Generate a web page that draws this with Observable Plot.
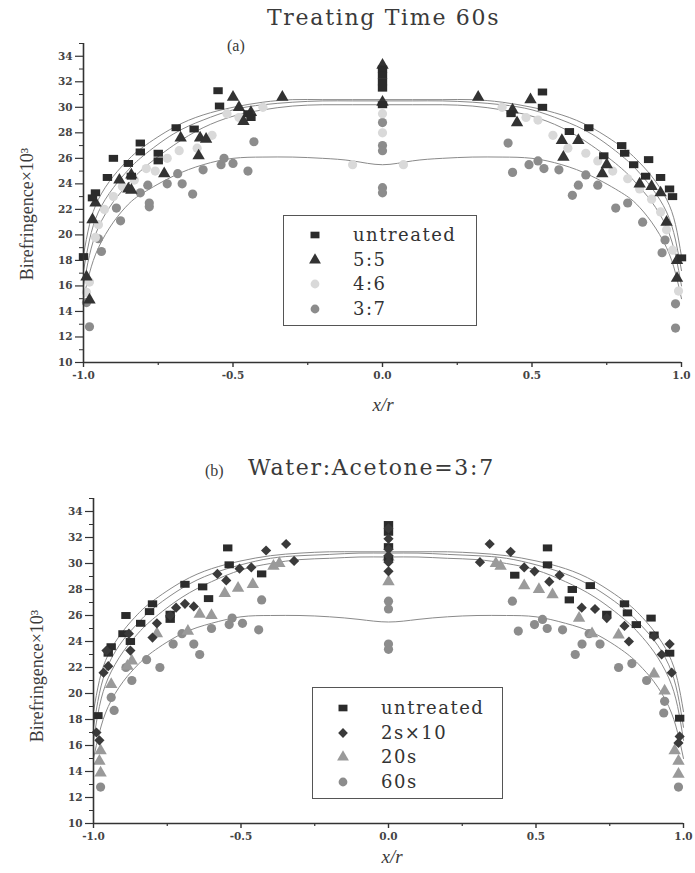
<!DOCTYPE html>
<html>
<head>
<meta charset="utf-8">
<script src="https://cdn.jsdelivr.net/npm/d3@7"></script>
<script src="https://cdn.jsdelivr.net/npm/@observablehq/plot@0.6"></script>
<style>
  body { margin: 0; background: #fff; }
  #fig { position: relative; width: 695px; height: 873px; overflow: hidden; background: #fff; }
  #fig svg { position: absolute; left: 0; }
  .txt { position: absolute; white-space: nowrap; color: #3a3a3a; }
  .title { font-family: "DejaVu Serif", serif; font-size: 22px; letter-spacing: 1.7px; }
  .paren { font-family: "Liberation Serif", serif; font-size: 16px; }
  .ylab { font-family: "Liberation Serif", serif; font-size: 18px; transform: translate(-50%, -50%) rotate(-90deg); }
  .xlab { font-family: "Liberation Serif", serif; font-style: italic; font-size: 19px; transform: translate(-50%, -50%); }
  .legend { position: absolute; border: 1.3px solid #555; box-sizing: border-box; }
  .legend .row { position: absolute; left: 0; display: flex; align-items: center; font-family: "DejaVu Serif", serif; font-size: 18px; letter-spacing: 1.5px; color: #333; }
</style>
</head>
<body>
<div id="fig"></div>
<script>
// ---------- data ----------
const seriesA = ["untreated", "5:5", "4:6", "3:7"];
const seriesB = ["untreated", "2s×10", "20s", "60s"];
const xTicks = [-1, -0.5, 0, 0.5, 1];
const xMinorTicks = [-0.75, -0.25, 0.25, 0.75];
const yTicks = [10, 12, 14, 16, 18, 20, 22, 24, 26, 28, 30, 32, 34];
const yMinorTicks = [11, 13, 15, 17, 19, 21, 23, 25, 27, 29, 31, 33, 35];

// panel (a): Treating Time 60s — measured points [x/r, birefringence]
const ptsA_untreated = [[-1.0,18.3],[-0.97,22.9],[-0.96,23.3],[-0.92,24.5],[-0.90,26.0],[-0.85,25.6],[-0.84,24.6],[-0.81,27.2],[-0.81,26.5],[-0.75,26.4],[-0.75,25.8],[-0.69,28.4],[-0.63,28.3],[-0.55,31.3],[-0.545,30.1],[-0.45,29.5],[-0.44,29.2],
  [0,33.0],[0,32.5],[0,32.0],[0,31.5],[0,30.2],
  [0.43,29.5],[0.535,31.2],[0.535,30.0],[0.625,28.1],[0.69,28.4],[0.74,26.2],[0.80,27.0],[0.81,26.4],[0.84,25.5],[0.89,25.9],[0.88,24.6],[0.93,24.5],[0.96,23.6],[0.97,23.0],[1.0,18.2]];
const ptsA_55 = [[-0.99,16.7],[-0.98,14.9],[-0.97,21.2],[-0.96,22.5],[-0.88,24.3],[-0.85,23.6],[-0.84,24.7],[-0.84,23.5],[-0.73,24.8],[-0.675,27.6],[-0.615,26.2],[-0.61,27.6],[-0.59,27.5],[-0.50,30.8],[-0.48,30.0],[-0.465,28.9],[-0.44,29.6],[-0.335,30.8],
  [0,33.3],[0,30.4],
  [0.32,30.8],[0.435,29.8],[0.45,28.8],[0.495,30.6],[0.60,27.4],[0.605,26.1],[0.655,27.4],[0.735,24.8],[0.75,25.5],[0.86,24.0],[0.90,23.8],[0.93,23.3],[0.95,21.0],[0.985,18.0],[0.985,16.6]];
const ptsA_46 = [[-0.99,15.5],[-0.98,16.3],[-0.96,19.8],[-0.95,20.8],[-0.93,22.0],[-0.90,23.0],[-0.87,23.8],[-0.83,24.3],[-0.79,25.2],[-0.76,25.0],[-0.72,26.0],[-0.68,26.6],[-0.62,26.8],[-0.57,27.8],[-0.52,29.5],[-0.48,29.2],[-0.40,30.0],[-0.10,25.5],
  [0,29.5],[0,28.0],
  [0.07,25.5],[0.40,30.0],[0.48,29.2],[0.52,29.0],[0.57,27.8],[0.62,26.8],[0.68,26.4],[0.72,25.8],[0.77,25.0],[0.82,24.4],[0.86,23.6],[0.90,22.8],[0.93,21.8],[0.95,20.4],[0.97,18.8],[0.99,15.6]];
const ptsA_37 = [[-0.98,12.8],[-0.99,14.7],[-0.94,18.7],[-0.95,19.7],[-0.876,21.1],[-0.89,22.1],[-0.78,22.2],[-0.78,22.5],[-0.81,23.3],[-0.785,23.9],[-0.72,24.0],[-0.67,24.0],[-0.635,23.2],[-0.685,24.8],[-0.60,25.1],[-0.54,25.5],[-0.50,25.6],[-0.53,26.0],[-0.45,25.0],[-0.43,27.3],
  [0,28.8],[0,27.0],[0,26.6],[0,23.7],[0,23.3],
  [0.42,27.2],[0.435,24.9],[0.49,25.5],[0.52,25.8],[0.54,25.2],[0.59,25.1],[0.635,23.1],[0.655,23.9],[0.68,24.7],[0.72,23.9],[0.78,22.1],[0.82,22.5],[0.87,21.0],[0.935,18.6],[0.945,19.6],[0.98,14.6],[0.98,12.7]];

// panel (b): Water:Acetone = 3:7
const ptsB_untreated = [[-0.985,18.3],[-0.95,23.1],[-0.94,23.6],[-0.90,24.6],[-0.875,24.0],[-0.89,26.0],[-0.84,25.4],[-0.81,26.3],[-0.80,26.9],[-0.74,26.1],[-0.74,25.7],[-0.69,28.4],[-0.63,28.2],[-0.61,27.3],[-0.545,31.2],[-0.54,29.9],[-0.43,29.2],
  [0,33.0],[0,32.4],[0,31.3],[0,30.4],
  [0.428,29.1],[0.539,31.2],[0.539,29.9],[0.613,27.2],[0.623,28.0],[0.684,28.3],[0.74,26.1],[0.80,26.9],[0.81,26.2],[0.84,25.3],[0.89,25.8],[0.90,24.5],[0.953,23.1],[0.987,18.1]];
const ptsB_2s10 = [[-0.99,17.0],[-0.98,16.4],[-0.966,21.6],[-0.95,22.1],[-0.956,23.3],[-0.88,24.6],[-0.875,23.3],[-0.80,24.3],[-0.785,25.4],[-0.74,26.0],[-0.72,26.6],[-0.69,26.9],[-0.66,26.7],[-0.58,29.2],[-0.55,28.7],[-0.505,29.6],[-0.465,29.7],[-0.415,31.0],[-0.347,31.5],[-0.32,30.2],
  [0,32.7],[0,31.9],[0,31.1],[0,30.6],[0,30.1],[0,29.4],
  [0.31,30.1],[0.343,31.5],[0.414,30.9],[0.46,29.7],[0.495,29.4],[0.545,28.6],[0.58,29.1],[0.655,26.6],[0.70,26.5],[0.74,25.8],[0.80,25.2],[0.815,24.0],[0.90,24.4],[0.926,23.0],[0.953,23.8],[0.96,21.6],[0.983,16.2],[0.987,16.7]];
const ptsB_20s = [[-0.976,15.6],[-0.98,14.8],[-0.976,13.9],[-0.94,20.7],[-0.885,22.1],[-0.87,22.5],[-0.785,24.6],[-0.68,24.8],[-0.64,26.1],[-0.60,26.0],[-0.555,27.7],[-0.51,28.1],[-0.46,28.4],[-0.39,29.8],[-0.37,30.0],
  [0,30.5],[0,28.6],
  [0.364,30.0],[0.38,29.8],[0.46,28.3],[0.51,28.0],[0.556,27.6],[0.646,25.8],[0.69,24.6],[0.78,24.5],[0.90,21.5],[0.936,20.2],[0.97,15.6],[0.983,14.8],[0.983,13.8]];
const ptsB_60s = [[-0.976,12.8],[-0.94,19.7],[-0.93,18.7],[-0.89,22.0],[-0.87,21.0],[-0.82,22.6],[-0.775,22.0],[-0.73,23.8],[-0.70,24.6],[-0.66,23.8],[-0.64,23.0],[-0.60,25.0],[-0.54,25.3],[-0.53,25.8],[-0.495,25.4],[-0.44,24.9],[-0.43,27.2],
  [0,27.1],[0,26.5],[0,23.8],[0,23.4],
  [0.42,27.1],[0.44,24.8],[0.495,25.3],[0.522,25.7],[0.538,25.0],[0.59,24.9],[0.633,23.0],[0.656,23.8],[0.68,24.6],[0.717,23.8],[0.78,22.0],[0.825,22.3],[0.875,21.0],[0.933,18.5],[0.936,19.4],[0.983,12.8]];

// fitted curves, sampled at curveX
const curveX = [-1,-0.98,-0.95,-0.9,-0.85,-0.8,-0.7,-0.6,-0.5,-0.4,-0.3,-0.2,-0.1,0,0.1,0.2,0.3,0.4,0.5,0.6,0.7,0.8,0.85,0.9,0.95,0.98,1];
const curveA_untreated = [18.4,20.8,22.8,24.6,25.9,26.9,28.4,29.4,30.0,30.4,30.6,30.6,30.6,30.6,30.6,30.6,30.6,30.4,30.0,29.4,28.4,26.9,25.9,24.6,22.8,20.8,18.3];
const curveA_55 = [17.2,19.6,21.8,23.7,25.1,26.2,27.9,29.0,29.8,30.2,30.4,30.5,30.5,30.5,30.5,30.5,30.4,30.2,29.8,29.0,27.9,26.2,25.1,23.7,21.8,19.6,17.2];
const curveA_46 = [16.0,18.4,20.6,22.6,24.0,25.2,27.0,28.4,29.3,29.8,30.1,30.2,30.2,30.2,30.2,30.2,30.1,29.8,29.3,28.4,27.0,25.2,24.0,22.6,20.6,18.4,16.0];
const curveA_37 = [15.0,17.0,19.0,21.0,22.4,23.3,24.6,25.5,26.0,26.1,26.1,26.0,25.8,25.5,25.8,26.0,26.1,26.1,26.0,25.5,24.6,23.3,22.4,21.0,19.0,17.0,15.0];
const curveB_untreated = [18.6,21.0,23.0,24.8,26.1,27.1,28.6,29.6,30.2,30.6,30.8,30.9,30.9,30.9,30.9,30.9,30.8,30.6,30.2,29.6,28.6,27.1,26.1,24.8,23.0,21.0,18.6];
const curveB_2s10 = [17.4,20.0,22.2,24.1,25.4,26.5,28.1,29.2,29.9,30.4,30.6,30.7,30.8,30.8,30.8,30.7,30.6,30.4,29.9,29.2,28.1,26.5,25.4,24.1,22.2,20.0,17.4];
const curveB_20s = [16.4,19.0,21.2,23.2,24.6,25.7,27.4,28.6,29.5,30.0,30.3,30.4,30.5,30.5,30.5,30.4,30.3,30.0,29.5,28.6,27.4,25.7,24.6,23.2,21.2,19.0,16.4];
const curveB_60s = [15.0,17.0,19.0,20.9,22.2,23.2,24.6,25.4,25.9,26.0,26.0,25.9,25.7,25.5,25.7,25.9,26.0,26.0,25.9,25.4,24.6,23.2,22.2,20.9,19.0,17.0,15.0];

// ---------- styling ----------
const rectSymbol = { draw(ctx, size) { const s = Math.sqrt(size); const w = s * 1.15, h = s * 0.85; ctx.rect(-w / 2, -h / 2, w, h); } };
const symbolsA = [rectSymbol, "triangle", "circle", "circle"];
const colorsA = ["#2b2b2b", "#333333", "#d9d9d9", "#8c8c8c"];
const symbolsB = [rectSymbol, "diamond2", "triangle", "circle"];
const colorsB = ["#2b2b2b", "#3a3a3a", "#9a9a9a", "#8c8c8c"];

function toRows(series, arrays) {
  const rows = [];
  series.forEach((s, i) => arrays[i].forEach(([x, y]) => rows.push({ series: s, x, y })));
  return rows;
}
function toCurves(series, arrays) {
  const rows = [];
  series.forEach((s, i) => arrays[i].forEach((y, j) => rows.push({ series: s, x: curveX[j], y })));
  return rows;
}

function panel({ series, pts, curves, symbols, colors, height, marginLeft, marginRight, marginTop, marginBottom, drawOrder }) {
  const points = toRows(series, pts);
  const ordered = drawOrder.flatMap(s => points.filter(d => d.series === s));
  const lines = toCurves(series, curves);
  const fmt = d3.format(".1f");
  return Plot.plot({
    width: 695, height, marginLeft, marginRight, marginTop, marginBottom,
    style: { fontFamily: "DejaVu Serif, serif", fontSize: "10.5px", fontWeight: "bold", color: "#444", background: "transparent" },
    x: { domain: [-1, 1] },
    y: { domain: [10, 35] },
    symbol: { domain: series, range: symbols },
    color: { domain: series, range: colors },
    marks: [
      Plot.line(lines, { x: "x", y: "y", z: "series", stroke: "#8a8a8a", strokeWidth: 1, curve: "natural" }),
      Plot.dot(ordered, { x: "x", y: "y", symbol: "series", fill: "series", r: 4.6, stroke: "none" }),
      Plot.axisX({ ticks: xTicks, tickFormat: d => fmt(d).replace("−", "-"), tickSize: 5, tickPadding: 4, label: null, stroke: "#333", strokeWidth: 1.4 }),
      Plot.axisX({ ticks: xMinorTicks, tickFormat: () => "", tickSize: 3, label: null, stroke: "#333", strokeWidth: 1.2 }),
      Plot.axisY({ ticks: yTicks, tickSize: 8, tickPadding: 3, label: null, stroke: "#333", strokeWidth: 1.2 }),
      Plot.axisY({ ticks: yMinorTicks, tickFormat: () => "", tickSize: 4, label: null, stroke: "#333", strokeWidth: 1 }),
      Plot.ruleY([10], { stroke: "#333", strokeWidth: 1.6 }),
      Plot.ruleX([-1], { stroke: "#333", strokeWidth: 1.6 })
    ]
  });
}

const fig = document.getElementById("fig");

const plotA = panel({
  series: seriesA, pts: [ptsA_untreated, ptsA_55, ptsA_46, ptsA_37],
  curves: [curveA_untreated, curveA_55, curveA_46, curveA_37],
  symbols: symbolsA, colors: colorsA,
  height: 400, marginLeft: 83, marginRight: 14, marginTop: 43, marginBottom: 38,
  drawOrder: ["3:7", "4:6", "5:5", "untreated"]
});
plotA.style.top = "0px";
fig.appendChild(plotA);

const plotB = panel({
  series: seriesB, pts: [ptsB_untreated, ptsB_2s10, ptsB_20s, ptsB_60s],
  curves: [curveB_untreated, curveB_2s10, curveB_20s, curveB_60s],
  symbols: symbolsB, colors: colorsB,
  height: 413, marginLeft: 93, marginRight: 12, marginTop: 38, marginBottom: 50,
  drawOrder: ["60s", "20s", "untreated", "2s×10"]
});
plotB.style.top = "460px";
fig.appendChild(plotB);

function addText(cls, text, left, top) {
  const d = document.createElement("div");
  d.className = "txt " + cls;
  d.textContent = text;
  d.style.left = left + "px";
  d.style.top = top + "px";
  fig.appendChild(d);
  return d;
}
addText("title", "Treating Time 60s", 267, 5);
addText("paren", "(a)", 227, 37);
addText("ylab", "Birefringence×10³", 27, 214);
addText("xlab", "x/r", 383, 405);

addText("paren", "(b)", 205, 462);
addText("title", "Water:Acetone=3:7", 248, 455);
addText("ylab", "Birefringence×10³", 37, 676);
addText("xlab", "x/r", 392, 857);

function addLegend(series, symbols, colors, box) {
  const lg = document.createElement("div");
  lg.className = "legend";
  Object.assign(lg.style, { left: box.left + "px", top: box.top + "px", width: box.width + "px", height: box.height + "px" });
  series.forEach((s, i) => {
    const row = document.createElement("div");
    row.className = "row";
    row.style.top = (box.firstRow + i * box.step - box.top - 12) + "px";
    row.style.height = "24px";
    const svg = d3.create("svg").attr("width", 20).attr("height", 20).style("position", "absolute").style("left", (box.markerX - box.left - 10) + "px").style("top", "2px");
    const sym = typeof symbols[i] === "string" ? { square: d3.symbolSquare, triangle: d3.symbolTriangle, circle: d3.symbolCircle, diamond2: d3.symbolDiamond2 }[symbols[i]] : symbols[i];
    svg.append("path").attr("transform", "translate(10,10)").attr("d", d3.symbol(sym, 4.4 * 4.4 * Math.PI)()).attr("fill", colors[i]);
    row.appendChild(svg.node());
    const t = document.createElement("span");
    t.textContent = s;
    t.style.position = "absolute";
    t.style.left = (box.textX - box.left) + "px";
    t.style.top = "0px";
    t.style.lineHeight = "24px";
    row.appendChild(t);
    lg.appendChild(row);
  });
  fig.appendChild(lg);
}
addLegend(seriesA, symbolsA, colorsA, { left: 283, top: 215, width: 194, height: 111, firstRow: 234, step: 24.5, markerX: 314, textX: 352 });
addLegend(seriesB, symbolsB, colorsB, { left: 312, top: 687, width: 191, height: 112, firstRow: 707, step: 24.5, markerX: 342, textX: 380 });
</script>
</body>
</html>
